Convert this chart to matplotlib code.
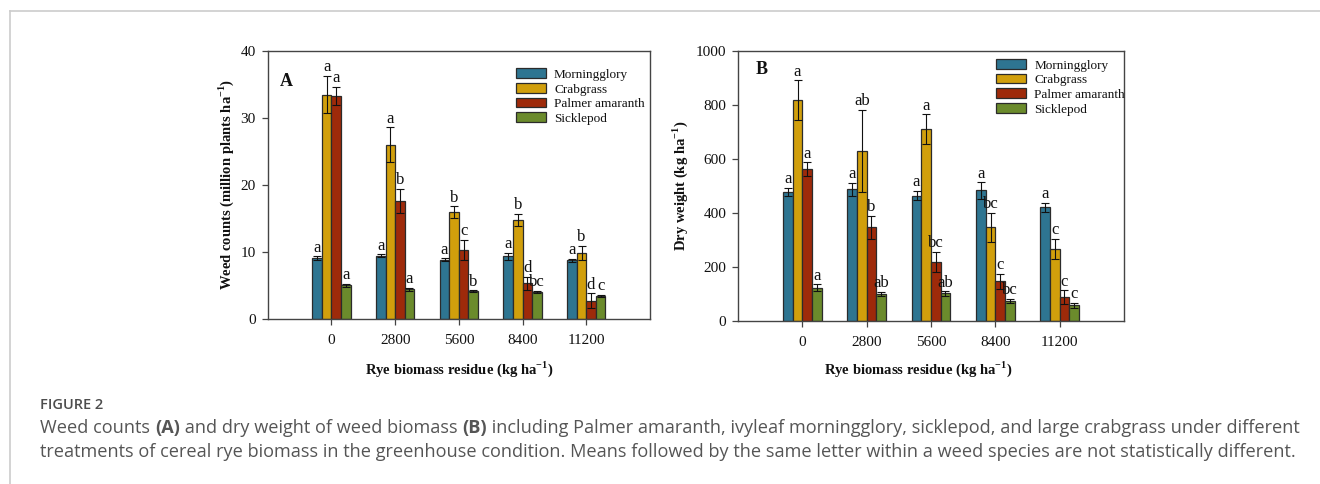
import matplotlib
matplotlib.use("Agg")
import matplotlib.pyplot as plt
import numpy as np
from matplotlib.lines import Line2D

plt.rcParams['font.family'] = ['Liberation Serif', 'DejaVu Serif']
plt.rcParams['mathtext.fontset'] = 'custom'
plt.rcParams['mathtext.rm'] = 'Liberation Serif'
plt.rcParams['mathtext.bf'] = 'Liberation Serif:bold'

# ---------------- data ----------------
categories = ['0', '2800', '5600', '8400', '11200']
species = ['Morningglory', 'Crabgrass', 'Palmer amaranth', 'Sicklepod']
colors = ['#2E7591', '#D19F0C', '#9E2A0A', '#6B8B2C']

# Panel A: weed counts (million plants ha-1)
a_mg = [9.0, 9.4, 8.8, 9.3, 8.7]
a_cg = [33.5, 26.0, 15.9, 14.8, 9.8]
a_pa = [33.3, 17.6, 10.3, 5.3, 2.7]
a_sp = [5.0, 4.4, 4.1, 4.0, 3.4]
a_mg_err = [0.3, 0.2, 0.2, 0.5, 0.2]
a_cg_err = [2.8, 2.6, 0.9, 0.9, 1.1]
a_pa_err = [1.3, 1.8, 1.5, 1.0, 1.1]
a_sp_err = [0.2, 0.2, 0.15, 0.15, 0.2]
a_mg_let = ['a', 'a', 'a', 'a', 'a']
a_cg_let = ['a', 'a', 'b', 'b', 'b']
a_pa_let = ['a', 'b', 'c', 'd', 'd']
a_sp_let = ['a', 'a', 'b', 'bc', 'c']

# Panel B: dry weight (kg ha-1)
b_mg = [478, 487, 464, 483, 420]
b_cg = [816, 629, 710, 346, 266]
b_pa = [561, 346, 219, 147, 88]
b_sp = [123, 99, 102, 74, 58]
b_mg_err = [14, 25, 17, 30, 18]
b_cg_err = [74, 151, 54, 54, 37]
b_pa_err = [26, 43, 36, 27, 25]
b_sp_err = [13, 8, 8, 7, 10]
b_mg_let = ['a', 'a', 'a', 'a', 'a']
b_cg_let = ['a', 'ab', 'a', 'bc', 'c']
b_pa_let = ['a', 'b', 'bc', 'c', 'c']
b_sp_let = ['a', 'ab', 'ab', 'bc', 'c']

W, H = 1320, 484
fig = plt.figure(figsize=(W / 100, H / 100), dpi=100)

def px_axes(l, t, r, b):
    return fig.add_axes([l / W, 1 - b / H, (r - l) / W, (b - t) / H])

axA = px_axes(267.7, 51, 650, 318.7)
axB = px_axes(738, 50.7, 1124, 321)

bw = 0.15
offsets = [-1.5 * bw, -0.5 * bw, 0.5 * bw, 1.5 * bw]
x = np.arange(1, len(categories) + 1)


def draw_panel(ax, vals, errs, lets, ymax, ystep, ylabel, panel, leg_anchor,
               ylab_x, xlab_xy, pan_xy):
    for i in range(4):
        xs = x + offsets[i]
        ax.bar(xs, vals[i], width=bw, color=colors[i], edgecolor='#2b2b2b',
               linewidth=0.9, label=species[i], zorder=2)
        ax.errorbar(xs, vals[i], yerr=errs[i], fmt='none', ecolor='#111111',
                    elinewidth=0.8, capsize=3, capthick=0.8, zorder=3)
        for xi, v, e, l in zip(xs, vals[i], errs[i], lets[i]):
            ax.annotate(l, (xi, v + e), xytext=(0, 0.5), textcoords='offset points',
                        ha='center', va='bottom', fontsize=12, color='#111111')
    ax.set_xlim(0, 6)
    ax.set_ylim(0, ymax)
    ax.set_yticks(np.arange(0, ymax + 1, ystep))
    ax.set_xticks(x)
    ax.set_xticklabels(categories)
    for s in ax.spines.values():
        s.set_color('#444444')
        s.set_linewidth(1.0)
    ax.tick_params(axis='both', which='both', direction='out', length=4,
                   width=0.9, color='#444444', labelsize=11, labelcolor='#111111')
    ax.tick_params(axis='x', pad=7)
    ax.tick_params(axis='y', pad=4.5)
    ax.set_ylabel(ylabel, fontsize=10.5, fontweight='bold', color='#111111')
    ax.yaxis.set_label_coords(ylab_x, 0.5)
    ax.set_xlabel(r'Rye biomass residue (kg ha$^{\mathbf{-1}}$)', fontsize=10.5,
                  fontweight='bold', color='#111111')
    ax.xaxis.set_label_coords(*xlab_xy)
    ax.text(pan_xy[0], pan_xy[1], panel, transform=ax.transAxes, fontsize=13,
            fontweight='bold', ha='center', va='center', color='#111111')
    leg = ax.legend(loc='upper left', bbox_to_anchor=leg_anchor, frameon=False,
                    fontsize=9.5, borderpad=0, borderaxespad=0, handlelength=2.3,
                    handleheight=0.75, handletextpad=0.6, labelspacing=0.17)
    for p in leg.get_patches():
        p.set_edgecolor('#2b2b2b')
        p.set_linewidth(0.9)
    for t in leg.get_texts():
        t.set_color('#111111')


draw_panel(axA, [a_mg, a_cg, a_pa, a_sp], [a_mg_err, a_cg_err, a_pa_err, a_sp_err],
           [a_mg_let, a_cg_let, a_pa_let, a_sp_let], 40, 10,
           r'Weed counts (million plants ha$^{\mathbf{-1}}$)', 'A',
           (0.649, 0.935), -0.082, (0.5, -0.152), (0.048, 0.885))
draw_panel(axB, [b_mg, b_cg, b_pa, b_sp], [b_mg_err, b_cg_err, b_pa_err, b_sp_err],
           [b_mg_let, b_cg_let, b_pa_let, b_sp_let], 1000, 200,
           r'Dry weight (kg ha$^{\mathbf{-1}}$)', 'B',
           (0.668, 0.969), -0.124, (0.467, -0.143), (0.06, 0.929))

# page frame lines
fig.add_artist(Line2D([10 / W, 1], [1 - 11 / H, 1 - 11 / H], transform=fig.transFigure,
                      color='#cccccc', linewidth=1.2))
fig.add_artist(Line2D([10 / W, 10 / W], [0, 1 - 11 / H], transform=fig.transFigure,
                      color='#cccccc', linewidth=1.2))

# caption
cap_font = ['Open Sans', 'DejaVu Sans']
fig.text(40 / W, 1 - 405 / H, 'FIGURE 2', fontsize=10.5, family=cap_font,
         fontweight='semibold', color='#4d4d4d', va='center', ha='left')

renderer = fig.canvas.get_renderer()


def caption_line(pieces, y):
    xpos = 40
    for txt, bold in pieces:
        t = fig.text(xpos / W, 1 - y / H, txt, fontsize=13.1, family=cap_font,
                     fontweight='bold' if bold else 'normal', color='#555555',
                     va='center', ha='left')
        bb = t.get_window_extent(renderer=renderer)
        xpos += bb.width


caption_line([('Weed counts ', False), ('(A)', True), (' and dry weight of weed biomass ', False),
              ('(B)', True), (' including Palmer amaranth, ivyleaf morningglory, sicklepod, '
                              'and large crabgrass under different', False)], 428)
caption_line([('treatments of cereal rye biomass in the greenhouse condition. Means followed by '
               'the same letter within a weed species are not statistically different.', False)], 452)

fig.savefig('out.png', dpi=100)
